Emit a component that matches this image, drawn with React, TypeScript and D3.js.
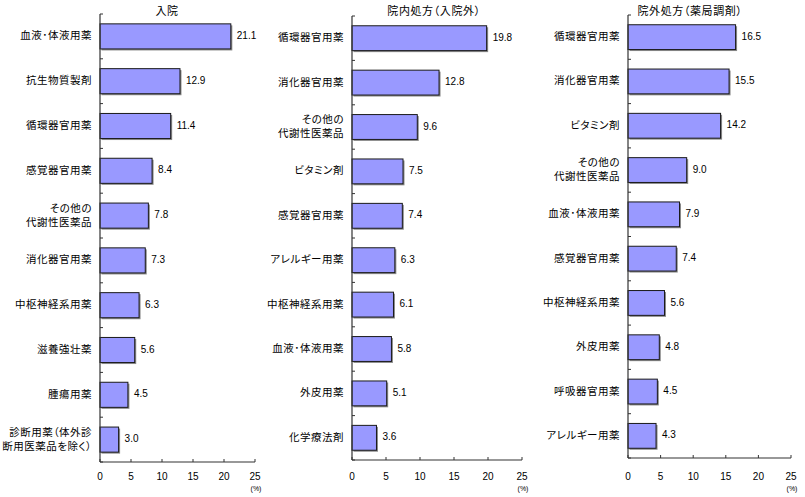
import React from "react";
import * as d3 from "d3";

const titles = ["入院", "院内処方（入院外）", "院外処方（薬局調剤）"];

const cats1 = ["血液･体液用薬", "抗生物質製剤", "循環器官用薬", "感覚器官用薬", "その他の\n代謝性医薬品", "消化器官用薬", "中枢神経系用薬", "滋養強壮薬", "腫瘍用薬", "診断用薬（体外診\n断用医薬品を除く）"];
const vals1 = [21.1, 12.9, 11.4, 8.4, 7.8, 7.3, 6.3, 5.6, 4.5, 3.0];

const cats2 = ["循環器官用薬", "消化器官用薬", "その他の\n代謝性医薬品", "ビタミン剤", "感覚器官用薬", "アレルギー用薬", "中枢神経系用薬", "血液･体液用薬", "外皮用薬", "化学療法剤"];
const vals2 = [19.8, 12.8, 9.6, 7.5, 7.4, 6.3, 6.1, 5.8, 5.1, 3.6];

const cats3 = ["循環器官用薬", "消化器官用薬", "ビタミン剤", "その他の\n代謝性医薬品", "血液･体液用薬", "感覚器官用薬", "中枢神経系用薬", "外皮用薬", "呼吸器官用薬", "アレルギー用薬"];
const vals3 = [16.5, 15.5, 14.2, 9.0, 7.9, 7.4, 5.6, 4.8, 4.5, 4.3];

const xTicks = [0, 5, 10, 15, 20, 25];

const panels = [
  { title: titles[0], cats: cats1, vals: vals1, x0: 100, x1: 255, yTop: 14, yBot: 462, titleX: 167 },
  { title: titles[1], cats: cats2, vals: vals2, x0: 352, x1: 522, yTop: 16, yBot: 460, titleX: 434 },
  { title: titles[2], cats: cats3, vals: vals3, x0: 628, x1: 791, yTop: 15, yBot: 458, titleX: 690 },
];

const jp = "'Noto Sans CJK JP', 'Noto Sans', sans-serif";
const num = "'Liberation Sans', Arial, sans-serif";
const palt = { fontFeatureSettings: '"palt"' } as React.CSSProperties;

function Panel({ p }: { p: any }) {
  const x = d3.scaleLinear().domain([0, 25]).range([p.x0, p.x1]);
  const y = d3.scaleBand<number>().domain(d3.range(p.cats.length)).range([p.yTop, p.yBot]).paddingInner(0.44).paddingOuter(0.22);
  const step = y.step();
  const bounds = d3.range(p.cats.length + 1).map((i) => p.yTop + i * step);
  const axisCol = "#333";
  return (
    <g>
      <text x={p.titleX} y={12} textAnchor="middle" dominantBaseline="middle" fontFamily={jp} fontSize={11} letterSpacing={0.6} fill="#000" style={palt}>{p.title}</text>
      {p.vals.map((v: number, i: number) => {
        const yy = y(i)!;
        const h = y.bandwidth();
        const w = x(v) - x(0);
        const lines = p.cats[i].split("\n");
        const cy = yy + h / 2;
        return (
          <g key={i}>
            <rect x={x(0) + 1.5} y={yy + 1.5} width={w} height={h} fill="#8a8a8a" />
            <rect x={x(0)} y={yy} width={w} height={h} fill="#9999FF" stroke="#1a1a1a" strokeWidth={1} />
            <text x={x(v) + 6} y={cy} dominantBaseline="middle" fontFamily={num} fontSize={10} fill="#000">{v.toFixed(1)}</text>
            <text textAnchor="end" dominantBaseline="middle" fontFamily={jp} fontSize={10.5} letterSpacing={0.5} fill="#000" style={palt}>
              {lines.map((ln: string, k: number) => (
                <tspan key={k} x={p.x0 - 8} y={cy + (k - (lines.length - 1) / 2) * 14}>{ln}</tspan>
              ))}
            </text>
          </g>
        );
      })}
      <line x1={p.x0} x2={p.x0} y1={p.yTop} y2={p.yBot} stroke={axisCol} strokeWidth={1.2} />
      <line x1={p.x0} x2={p.x1} y1={p.yBot} y2={p.yBot} stroke={axisCol} strokeWidth={1.2} />
      {bounds.map((b: number, i: number) => (
        <line key={i} x1={p.x0} x2={p.x0 + 3} y1={b} y2={b} stroke={axisCol} strokeWidth={1} />
      ))}
      {xTicks.map((t) => (
        <g key={t}>
          <line x1={x(t)} x2={x(t)} y1={p.yBot} y2={p.yBot - 3} stroke={axisCol} strokeWidth={1} />
          <text x={x(t)} y={477} textAnchor="middle" dominantBaseline="middle" fontFamily={num} fontSize={10} fill="#000">{t}</text>
        </g>
      ))}
      <text x={p.x1 + 1} y={489} textAnchor="middle" dominantBaseline="middle" fontFamily={num} fontSize={7} fill="#000">(%)</text>
    </g>
  );
}

export default function App() {
  return (
    <div style={{ position: "fixed", left: 0, top: 0 }}>
      <svg width={805} height={497} style={{ display: "block", background: "#fff" }}>
        {panels.map((p, i) => (
          <Panel key={i} p={p} />
        ))}
      </svg>
    </div>
  );
}
